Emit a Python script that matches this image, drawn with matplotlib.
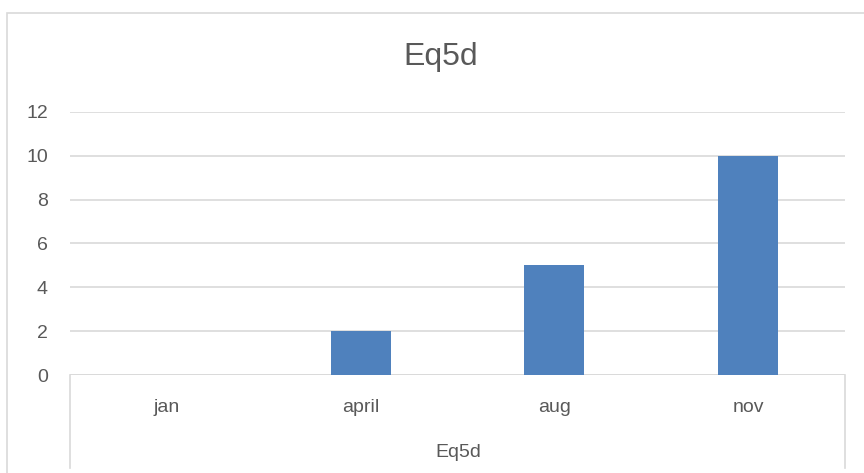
import matplotlib
matplotlib.use("Agg")
import matplotlib.pyplot as plt
from matplotlib.lines import Line2D
from matplotlib.patches import Rectangle

categories = ["jan", "april", "aug", "nov"]
values = [0, 2, 5, 10]
y_ticks = [0, 2, 4, 6, 8, 10, 12]
title = "Eq5d"
group_label = "Eq5d"

W, H = 864, 473
text_color = "#595959"
grid_color = "#d9d9d9"
bar_color = "#4f81bd"

plt.rcParams["font.family"] = ["Liberation Sans", "DejaVu Sans"]

fig = plt.figure(figsize=(W / 100, H / 100), dpi=100)

# plot area in pixel coordinates
x0, x1 = 70, 845
y_bottom, y_top = 375, 112
ax = fig.add_axes([x0 / W, (H - y_bottom) / H, (x1 - x0) / W, (y_bottom - y_top) / H])

pos = list(range(len(categories)))
ax.bar(pos, values, width=0.31, color=bar_color, zorder=3)

ax.set_xlim(-0.5, len(categories) - 0.5)
ax.set_ylim(0, 12)
ax.set_yticks(y_ticks)
ax.set_yticklabels([str(t) for t in y_ticks])
ax.set_xticks(pos)
ax.set_xticklabels(categories)

ax.grid(axis="y", color=grid_color, linewidth=1.2, zorder=0)
ax.set_axisbelow(True)
for s in ax.spines.values():
    s.set_visible(False)
ax.axhline(0, color=grid_color, linewidth=1.2, zorder=1)

ax.tick_params(axis="y", length=0, pad=16, labelsize=14, labelcolor=text_color)
ax.tick_params(axis="x", length=0, pad=17, labelsize=14, labelcolor=text_color)

# group dividers of the multi-level category axis
for xp in (x0, x1):
    fig.add_artist(Line2D([xp / W, xp / W], [(H - y_bottom) / H, (H - 468) / H],
                          transform=fig.transFigure, color=grid_color, linewidth=1.2))

# chart title and group label
fig.text(441 / W, (H - 57) / H, title, ha="center", va="center",
         fontsize=23, color=text_color)
fig.text(458 / W, (H - 452) / H, group_label, ha="center", va="center",
         fontsize=14, color=text_color)

# outer chart border
fig.add_artist(Rectangle((7 / W, -0.05), 1.0, (H - 13) / H + 0.05,
                         transform=fig.transFigure, fill=False,
                         edgecolor=grid_color, linewidth=1.2))

fig.savefig("out.png", dpi=100)
